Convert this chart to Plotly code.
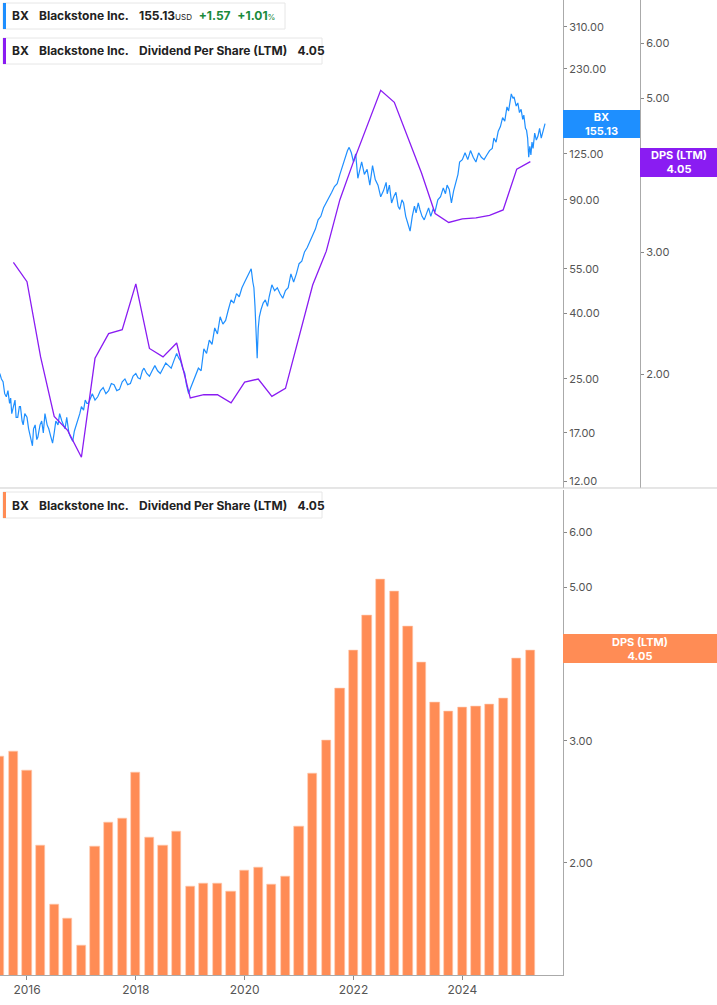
import plotly.graph_objects as go

# Quarterly DPS (LTM) bars
dps_dates = [2015.5 + 0.25 * i for i in range(40)]
dps_values = [2.85, 2.90, 2.72, 2.12, 1.74, 1.66, 1.52, 2.11, 2.29, 2.32,
              2.70, 2.18, 2.12, 2.22, 1.85, 1.87, 1.87, 1.82, 1.95, 1.97,
              1.86, 1.91, 2.26, 2.69, 3.01, 3.57, 4.05, 4.56, 5.13, 4.93,
              4.39, 3.90, 3.41, 3.31, 3.35, 3.36, 3.39, 3.45, 3.95, 4.05]

# BX price (approximate readings)
price_dates = [2015.50, 2015.53, 2015.56, 2015.59, 2015.62, 2015.65, 2015.68, 2015.70, 2015.72, 2015.75,
               2015.78, 2015.80, 2015.83, 2015.86, 2015.88, 2015.91, 2015.93, 2015.96, 2016.00, 2016.03,
               2016.05, 2016.08, 2016.10, 2016.12, 2016.15, 2016.18, 2016.20, 2016.24, 2016.27, 2016.30,
               2016.33, 2016.37, 2016.40, 2016.44, 2016.47, 2016.50, 2016.53, 2016.57, 2016.60, 2016.64,
               2016.67, 2016.70, 2016.73, 2016.77, 2016.80, 2016.84, 2016.87, 2016.90, 2016.93, 2016.97,
               2017.00, 2017.04, 2017.07, 2017.10, 2017.13, 2017.17, 2017.20, 2017.25, 2017.30, 2017.35,
               2017.40, 2017.45, 2017.50, 2017.55, 2017.60, 2017.65, 2017.70, 2017.75, 2017.80, 2017.85,
               2017.90, 2017.95, 2018.00, 2018.04, 2018.08, 2018.12, 2018.15, 2018.20, 2018.25, 2018.30,
               2018.35, 2018.40, 2018.45, 2018.50, 2018.55, 2018.60, 2018.65, 2018.70, 2018.75, 2018.79,
               2018.82, 2018.86, 2018.90, 2018.93, 2018.97, 2019.01, 2019.05, 2019.10, 2019.15, 2019.20,
               2019.25, 2019.30, 2019.35, 2019.40, 2019.45, 2019.50, 2019.55, 2019.60, 2019.65, 2019.70,
               2019.75, 2019.80, 2019.85, 2019.90, 2019.95, 2020.00, 2020.05, 2020.09, 2020.12, 2020.15,
               2020.17, 2020.19, 2020.21, 2020.23, 2020.25, 2020.27, 2020.30, 2020.34, 2020.38, 2020.42,
               2020.45, 2020.50, 2020.55, 2020.60, 2020.65, 2020.70, 2020.75, 2020.80, 2020.85, 2020.90,
               2020.95, 2021.00, 2021.05, 2021.10, 2021.15, 2021.20, 2021.25, 2021.30, 2021.35, 2021.40,
               2021.45, 2021.50, 2021.55, 2021.60, 2021.65, 2021.70, 2021.75, 2021.80, 2021.85, 2021.89,
               2021.92, 2021.96, 2022.00, 2022.04, 2022.08, 2022.12, 2022.15, 2022.20, 2022.25, 2022.30,
               2022.35, 2022.40, 2022.45, 2022.50, 2022.55, 2022.60, 2022.62, 2022.66, 2022.70, 2022.74,
               2022.78, 2022.82, 2022.85, 2022.89, 2022.92, 2022.96, 2023.00, 2023.04, 2023.08, 2023.12,
               2023.15, 2023.19, 2023.22, 2023.26, 2023.30, 2023.34, 2023.38, 2023.42, 2023.46, 2023.50,
               2023.55, 2023.60, 2023.65, 2023.69, 2023.72, 2023.76, 2023.80, 2023.84, 2023.88, 2023.92,
               2023.95, 2024.00, 2024.05, 2024.10, 2024.15, 2024.20, 2024.25, 2024.30, 2024.35, 2024.40,
               2024.45, 2024.50, 2024.55, 2024.58, 2024.62, 2024.66, 2024.70, 2024.74, 2024.78, 2024.82,
               2024.85, 2024.88, 2024.90, 2024.93, 2024.95, 2024.99, 2025.02, 2025.05, 2025.08, 2025.11,
               2025.13, 2025.16, 2025.18, 2025.20, 2025.22, 2025.24, 2025.26, 2025.28, 2025.30, 2025.33,
               2025.36, 2025.39, 2025.42, 2025.45, 2025.48, 2025.52]
price_values = [26.0, 25.0, 24.5, 22.5, 22.0, 23.0, 21.0, 21.8, 19.5, 20.5,
                21.5, 19.0, 19.0, 20.5, 20.5, 18.5, 18.0, 19.5, 19.0, 17.5,
                17.0, 16.0, 15.5, 17.5, 18.0, 16.2, 16.5, 18.0, 18.5, 17.0,
                19.5, 18.0, 17.5, 16.5, 15.8, 17.0, 18.5, 18.0, 19.5, 18.5,
                18.0, 17.5, 19.0, 17.0, 16.5, 16.0, 17.2, 17.8, 18.5, 19.5,
                20.5, 20.0, 21.5, 21.0, 21.0, 22.0, 22.5, 21.5, 22.0, 23.0,
                23.5, 22.5, 23.0, 24.2, 24.0, 23.0, 23.2, 24.5, 25.0, 24.0,
                24.2, 25.5, 26.0, 25.2, 25.0, 26.5, 27.0, 26.0, 25.5, 26.5,
                27.5, 26.5, 26.0, 27.0, 28.0, 27.5, 27.0, 28.5, 30.0, 29.0,
                28.5, 27.0, 26.0, 24.0, 22.5, 23.5, 24.5, 25.5, 27.0, 26.5,
                31.0, 30.0, 33.0, 32.0, 36.0, 34.5, 39.0, 37.0, 38.0, 41.0,
                44.0, 43.0, 46.0, 45.0, 48.0, 50.0, 52.0, 54.0, 55.0, 50.0,
                48.0, 42.0, 33.0, 29.0, 36.0, 39.0, 41.0, 43.0, 44.0, 42.0,
                45.0, 49.0, 47.0, 48.0, 46.0, 44.5, 47.0, 48.0, 53.0, 50.0,
                53.0, 57.0, 58.0, 62.0, 64.0, 67.0, 70.0, 73.0, 78.0, 80.0,
                85.0, 88.0, 92.0, 95.0, 99.0, 101.0, 108.0, 115.0, 122.0, 128.0,
                131.0, 126.0, 118.0, 125.0, 105.0, 112.0, 118.0, 108.0, 112.0, 100.0,
                115.0, 104.0, 100.0, 92.0, 96.0, 102.0, 94.0, 100.0, 88.0, 92.0,
                95.0, 86.0, 84.0, 90.0, 88.0, 80.0, 76.0, 72.0, 80.0, 86.0,
                82.0, 88.0, 84.0, 80.0, 78.0, 82.0, 85.0, 80.0, 84.0, 83.0,
                90.0, 92.0, 98.0, 94.0, 100.0, 97.0, 88.0, 96.0, 102.0, 108.0,
                118.0, 120.0, 126.0, 120.0, 128.0, 122.0, 118.0, 126.0, 122.0, 120.0,
                124.0, 128.0, 130.0, 140.0, 136.0, 147.0, 152.0, 162.0, 158.0, 175.0,
                170.0, 184.0, 192.0, 186.0, 188.0, 176.0, 180.0, 168.0, 172.0, 160.0,
                165.0, 150.0, 148.0, 140.0, 122.0, 132.0, 124.0, 136.0, 130.0, 145.0,
                138.0, 142.0, 150.0, 140.0, 147.0, 155.13]

price_ticks = [12, 17, 25, 40, 55, 90, 125, 230, 310]
dps_ticks_top = [2, 3, 5, 6]
dps_ticks_bot = [2, 3, 4, 5, 6]
year_ticks = [2016, 2018, 2020, 2022, 2024]

BLUE = "#1E8FFF"
PURPLE = "#8A1CF2"
ORANGE = "#FF8C55"
GRAY = "#555"

fig = go.Figure()
fig.add_trace(go.Scatter(x=price_dates, y=price_values, mode="lines",
                         line=dict(color=BLUE, width=1.2), xaxis="x", yaxis="y"))
fig.add_trace(go.Scatter(x=dps_dates[1:], y=dps_values[1:], mode="lines",
                         line=dict(color=PURPLE, width=1.3), xaxis="x", yaxis="y3"))
fig.add_trace(go.Bar(x=dps_dates, y=dps_values, width=0.17,
                     marker=dict(color=ORANGE, line=dict(color="#FFC9AE", width=0.6)),
                     xaxis="x2", yaxis="y2"))

W = 640.0
PH = 975.0
XD = 563.0 / W
xr = [2015.504, 2025.85]
tickfont = dict(family="Inter, Roboto, sans-serif", size=11, color=GRAY)
fig.update_layout(
    width=717, height=1005, showlegend=False, bargap=0,
    margin=dict(l=0, r=77, t=0, b=30, autoexpand=False),
    plot_bgcolor="white", paper_bgcolor="white",
    xaxis=dict(domain=[0, XD], range=xr, anchor="y", showticklabels=False,
               showgrid=False, zeroline=False, showline=False),
    yaxis=dict(domain=[0.5, 1], type="log", range=[1.0607, 2.575], side="right",
               tickvals=price_ticks, ticktext=[f"{v:.2f}" for v in price_ticks],
               ticks="outside", ticklen=3, tickcolor="#888", tickfont=tickfont,
               showgrid=False, zeroline=False, showline=True, linecolor="#aaa",
               linewidth=1, anchor="x"),
    yaxis3=dict(overlaying="y", type="log", range=[0.1383, 0.8401], side="right",
                anchor="free", position=1.0,
                tickvals=dps_ticks_top, ticktext=[f"{v:.2f}" for v in dps_ticks_top],
                ticks="outside", ticklen=3, tickcolor="#888", tickfont=tickfont,
                showgrid=False, zeroline=False, showline=True, linecolor="#aaa",
                linewidth=1),
    xaxis2=dict(domain=[0, XD], range=xr, anchor="y2",
                tickvals=year_ticks, ticktext=[str(y) for y in year_ticks],
                ticks="outside", ticklen=4, tickcolor="#888",
                tickfont=dict(family="Inter, Roboto, sans-serif", size=12, color=GRAY),
                showgrid=False, zeroline=False, showline=True, linecolor="#aaa", linewidth=1),
    yaxis2=dict(domain=[0, 0.497], type="log", range=[0.139, 0.839], side="right",
                tickvals=dps_ticks_bot, ticktext=[f"{v:.2f}" for v in dps_ticks_bot],
                ticks="outside", ticklen=3, tickcolor="#888", tickfont=tickfont,
                showgrid=False, zeroline=False, showline=True, linecolor="#aaa",
                linewidth=1, anchor="x2"),
)

# separator line between panels
fig.add_shape(type="line", xref="paper", yref="paper", x0=0, x1=717 / W, y0=0.4995, y1=0.4995,
              line=dict(color="#ccc", width=1))

FONT = "Inter, Roboto, sans-serif"

def legend_box(y_px, x1_px, text, color):
    yc = 1 - y_px / PH
    h = 26 / PH
    fig.add_shape(type="rect", xref="paper", yref="paper", x0=3 / W, x1=x1_px / W,
                  y0=yc - h / 2, y1=yc + h / 2, line=dict(color="#e6e6e6", width=1),
                  fillcolor="white", layer="above")
    fig.add_shape(type="rect", xref="paper", yref="paper", x0=3 / W, x1=6 / W,
                  y0=yc - h / 2, y1=yc + h / 2, line=dict(width=0), fillcolor=color,
                  layer="above")
    fig.add_annotation(xref="paper", yref="paper", x=10 / W, y=yc, xanchor="left",
                       yanchor="middle", text=text, showarrow=False,
                       font=dict(family=FONT, size=12, color="#222"))

legend_box(16, 285, "<b>BX</b>   <b>Blackstone Inc.</b>   <b>155.13</b><span style='font-size:8px'>USD</span>  "
           "<span style='color:#1a8a3a'><b>+1.57</b></span>  <span style='color:#1a8a3a'><b>+1.01</b><span style='font-size:8px'>%</span></span>",
           BLUE)
legend_box(51, 322, "<b>BX</b>   <b>Blackstone Inc.</b>   <b>Dividend Per Share (LTM)</b>   <b>4.05</b>", PURPLE)
legend_box(505, 322, "<b>BX</b>   <b>Blackstone Inc.</b>   <b>Dividend Per Share (LTM)</b>   <b>4.05</b>", ORANGE)

def value_tag(x0, x1, y0, y1, text, color):
    fig.add_shape(type="rect", xref="paper", yref="paper", x0=x0 / W, x1=x1 / W,
                  y0=1 - y1 / PH, y1=1 - y0 / PH, line=dict(width=0),
                  fillcolor=color, layer="above")
    fig.add_annotation(xref="paper", yref="paper", x=(x0 + x1) / 2 / W,
                       y=1 - (y0 + y1) / 2 / PH, xanchor="center", yanchor="middle",
                       text=text, showarrow=False,
                       font=dict(family=FONT, size=11, color="white"), align="center")

value_tag(563, 640, 110, 138, "<b>BX</b><br><b>155.13</b>", BLUE)
value_tag(640, 717, 148, 177, "<b>DPS (LTM)</b><br><b>4.05</b>", PURPLE)
value_tag(563, 717, 634, 663, "<b>DPS (LTM)</b><br><b>4.05</b>", ORANGE)

fig.write_html("out.html", config={"displayModeBar": False},
               post_script="document.body.style.margin='0';document.body.style.padding='0';")
